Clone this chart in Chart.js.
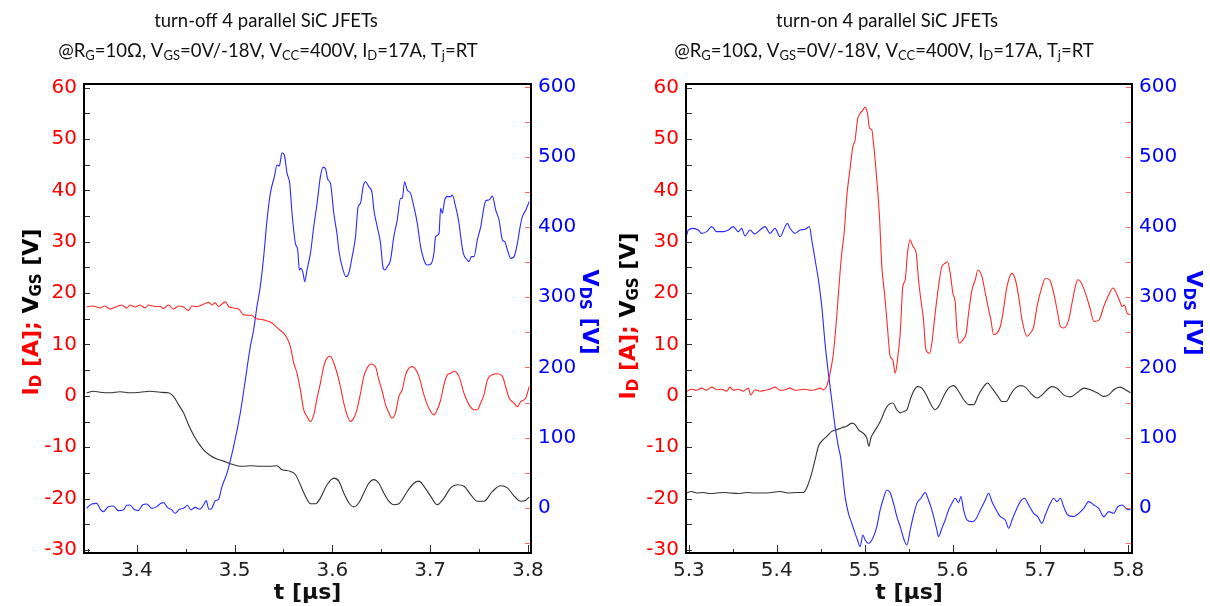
<!DOCTYPE html>
<html>
<head>
<meta charset="utf-8">
<script src="https://cdn.jsdelivr.net/npm/chart.js@4.4.1/dist/chart.umd.min.js"></script>
<style>
  html, body { margin: 0; padding: 0; background: #fff; }
  #wrap { position: relative; width: 1210px; height: 606px; overflow: hidden; }
  canvas { position: absolute; top: 0; }
</style>
</head>
<body>
<div id="wrap">
  <canvas id="off" width="605" height="606" style="left:0"></canvas>
  <canvas id="on" width="605" height="606" style="left:605px"></canvas>
</div>
<script>
// ---- turn-off (left panel), t in µs ----
const tOffVds = [3.3487,3.3539,3.3590,3.3631,3.3658,3.3709,3.3761,3.3812,3.3863,3.3897,3.3931,3.3972,3.4017,3.4061,3.4102,3.4153,3.4205,3.4246,3.4273,3.4314,3.4358,3.4392,3.4437,3.4478,3.4519,3.4553,3.4597,3.4642,3.4683,3.4710,3.4737,3.4768,3.4802,3.4836,3.4871,3.4922,3.4990,3.5058,3.5110,3.5161,3.5195,3.5229,3.5263,3.5298,3.5332,3.5366,3.5407,3.5434,3.5458,3.5485,3.5509,3.5537,3.5564,3.5588,3.5622,3.5646,3.5663,3.5680,3.5701,3.5718,3.5741,3.5776,3.5810,3.5844,3.5878,3.5905,3.5929,3.5953,3.5981,3.6015,3.6049,3.6066,3.6100,3.6140,3.6168,3.6203,3.6237,3.6264,3.6288,3.6315,3.6339,3.6373,3.6407,3.6425,3.6459,3.6493,3.6517,3.6537,3.6561,3.6595,3.6629,3.6664,3.6698,3.6715,3.6739,3.6766,3.6800,3.6834,3.6869,3.6903,3.6937,3.6971,3.7005,3.7039,3.7056,3.7091,3.7108,3.7125,3.7149,3.7176,3.7210,3.7227,3.7261,3.7296,3.7313,3.7340,3.7381,3.7398,3.7422,3.7449,3.7483,3.7518,3.7552,3.7569,3.7603,3.7637,3.7671,3.7705,3.7740,3.7763,3.7791,3.7825,3.7859,3.7893,3.7921,3.7944,3.7979,3.8013];
const vdsOff = [-0.5,5.7,6.6,-2.8,-5.2,1.9,2.8,-3.8,-2.8,3.8,4.3,-1.9,-3.8,4.7,5.7,-0.5,1.9,6.6,7.6,0.9,-2.8,-7.6,-1.9,-0.5,3.8,-2.8,0.9,-1.9,4.3,10.4,-1.9,-0.5,10.4,12.3,30.4,49.3,87.3,134.8,182.2,229.7,253.4,286.6,315.1,357.8,410.0,447.9,471.7,488.3,486.8,505.8,502.5,476.4,462.2,419.5,376.8,367.3,338.8,341.2,334.0,322.2,338.8,362.5,400.5,433.7,471.7,484.9,483.5,467.9,462.2,419.5,388.6,367.3,343.5,329.3,334.0,357.8,386.2,428.9,433.7,457.4,464.5,457.4,447.9,424.2,400.5,376.8,343.5,338.8,343.5,353.0,386.2,410.0,440.8,440.8,464.5,452.7,447.9,428.9,405.2,372.0,353.0,345.9,346.9,362.5,386.2,391.0,426.6,419.5,438.4,443.2,443.2,445.6,428.9,405.2,386.2,362.5,353.0,350.7,357.8,357.8,381.5,400.5,428.9,437.5,438.4,444.1,424.2,410.0,381.5,379.1,367.3,355.4,357.8,376.8,400.5,414.7,424.2,436.1];

const tOffId = [3.3487,3.3556,3.3624,3.3675,3.3726,3.3795,3.3846,3.3897,3.3931,3.3983,3.4034,3.4085,3.4119,3.4187,3.4239,3.4273,3.4324,3.4375,3.4427,3.4478,3.4529,3.4563,3.4614,3.4666,3.4734,3.4768,3.4802,3.4836,3.4905,3.4939,3.4990,3.5041,3.5092,3.5144,3.5178,3.5212,3.5263,3.5315,3.5383,3.5451,3.5502,3.5537,3.5571,3.5605,3.5639,3.5673,3.5707,3.5741,3.5776,3.5810,3.5844,3.5878,3.5912,3.5946,3.5980,3.6015,3.6049,3.6083,3.6117,3.6151,3.6185,3.6220,3.6247,3.6288,3.6322,3.6356,3.6390,3.6441,3.6476,3.6510,3.6544,3.6578,3.6612,3.6646,3.6681,3.6715,3.6749,3.6783,3.6817,3.6851,3.6886,3.6937,3.6971,3.7005,3.7039,3.7073,3.7108,3.7142,3.7176,3.7210,3.7244,3.7295,3.7347,3.7398,3.7449,3.7483,3.7517,3.7551,3.7586,3.7637,3.7688,3.7739,3.7773,3.7808,3.7859,3.7893,3.7927,3.7979,3.8013];
const idOff = [17.3,17.5,17.1,17.5,16.9,17.4,17.7,17.1,17.7,17.3,17.7,17.1,17.7,17.4,17.4,17.0,17.7,16.9,17.5,17.3,16.6,17.5,17.4,17.7,18.2,17.7,18.1,17.4,18.3,17.4,17.1,16.9,15.8,15.7,15.7,15.1,14.9,14.7,14.2,13.0,12.2,11.2,9.6,6.4,4.4,1.2,-2.7,-4.0,-5.0,-3.7,-0.4,2.5,5.7,7.4,7.7,6.4,4.4,1.8,-1.4,-3.7,-5.0,-4.3,-3.0,0.5,3.8,5.4,6.2,5.7,3.1,0.9,-1.7,-3.3,-4.3,-3.3,-0.1,1.2,4.1,5.4,5.7,5.2,3.8,0.2,-1.7,-3.0,-3.7,-2.7,-0.8,2.2,4.1,4.4,4.8,3.8,0.5,-1.7,-2.7,-2.7,-1.4,0.2,3.1,4.1,4.3,3.8,1.8,-0.4,-1.4,-2.1,-1.1,-0.4,1.8];

const tOffVgs = [3.3487,3.3556,3.3624,3.3726,3.3829,3.3931,3.4034,3.4136,3.4239,3.4324,3.4375,3.4427,3.4478,3.4529,3.4580,3.4631,3.4683,3.4751,3.4819,3.4888,3.4956,3.5024,3.5092,3.5161,3.5263,3.5366,3.5434,3.5485,3.5519,3.5571,3.5622,3.5673,3.5724,3.5776,3.5827,3.5878,3.5946,3.6015,3.6066,3.6117,3.6168,3.6220,3.6271,3.6322,3.6373,3.6424,3.6476,3.6527,3.6578,3.6629,3.6681,3.6715,3.6766,3.6834,3.6886,3.6937,3.7005,3.7073,3.7142,3.7210,3.7278,3.7347,3.7415,3.7483,3.7551,3.7637,3.7722,3.7791,3.7859,3.7927,3.7979,3.8013];
const vgsOff = [0.6,0.9,0.7,0.6,0.8,0.6,0.7,0.9,0.7,0.6,-0.1,-1.7,-3.3,-5.6,-7.6,-9.2,-10.5,-11.6,-12.3,-12.7,-13.2,-13.6,-13.7,-13.6,-13.7,-13.7,-13.6,-14.4,-14.5,-14.7,-15.3,-17.3,-19.5,-21.0,-21.0,-19.9,-17.3,-16.0,-16.6,-18.9,-20.8,-21.6,-20.8,-18.9,-17.0,-16.3,-17.0,-18.9,-20.5,-21.2,-21.0,-20.2,-18.6,-17.0,-16.6,-17.6,-19.5,-21.2,-19.9,-17.9,-17.3,-17.6,-19.2,-20.5,-20.5,-18.6,-17.5,-17.9,-19.5,-20.5,-20.3,-19.7];

// ---- turn-on (right panel) ----
const tOnVds = [5.2975,5.2994,5.3051,5.3108,5.3146,5.3203,5.3260,5.3317,5.3393,5.3450,5.3506,5.3563,5.3601,5.3639,5.3696,5.3753,5.3810,5.3867,5.3924,5.3981,5.4038,5.4095,5.4121,5.4152,5.4209,5.4266,5.4323,5.4372,5.4399,5.4437,5.4475,5.4513,5.4550,5.4588,5.4626,5.4664,5.4702,5.4729,5.4752,5.4778,5.4816,5.4854,5.4892,5.4919,5.4949,5.4980,5.5006,5.5044,5.5093,5.5139,5.5177,5.5215,5.5253,5.5291,5.5329,5.5367,5.5405,5.5450,5.5481,5.5519,5.5557,5.5595,5.5640,5.5689,5.5727,5.5765,5.5822,5.5841,5.5879,5.5917,5.5955,5.5993,5.6031,5.6069,5.6096,5.6126,5.6164,5.6221,5.6259,5.6316,5.6373,5.6411,5.6449,5.6487,5.6544,5.6601,5.6639,5.6677,5.6733,5.6771,5.6817,5.6866,5.6923,5.6969,5.7018,5.7056,5.7113,5.7151,5.7189,5.7227,5.7265,5.7311,5.7379,5.7436,5.7493,5.7550,5.7607,5.7664,5.7721,5.7778,5.7834,5.7880,5.7929,5.7986,5.8024];
const vdsOn = [388.6,395.7,398.1,395.7,391.0,393.4,400.5,393.4,393.4,395.7,400.5,393.4,398.1,387.2,395.7,390.0,395.7,400.5,391.0,398.1,386.2,400.5,405.2,398.1,391.0,395.7,396.7,400.5,381.5,353.0,324.6,286.6,234.4,191.7,153.7,115.8,87.3,70.7,44.6,16.1,-7.6,-21.8,-36.1,-45.6,-55.0,-38.4,-45.6,-50.3,-43.2,-26.6,-2.8,13.8,25.6,21.8,6.6,-12.3,-26.6,-45.6,-52.7,-31.3,-10.0,6.6,13.8,21.8,11.4,-2.8,-31.3,-40.8,-28.9,-17.1,-2.8,6.6,13.8,7.6,16.1,-2.8,-17.1,-19.5,-17.1,-2.8,11.4,20.9,9.0,-0.5,-12.3,-17.1,-28.9,-17.1,-0.5,9.0,13.8,4.3,-7.6,-12.3,-21.8,-10.0,6.6,13.8,9.0,13.8,1.9,-10.0,-12.3,-7.6,-0.5,9.0,4.3,-0.5,-12.3,-5.2,-7.6,1.9,4.3,-1.9,-2.8];

const tOnId = [5.2975,5.3032,5.3089,5.3146,5.3203,5.3260,5.3317,5.3374,5.3431,5.3468,5.3506,5.3563,5.3620,5.3677,5.3704,5.3753,5.3810,5.3867,5.3924,5.3981,5.4038,5.4095,5.4152,5.4209,5.4266,5.4323,5.4380,5.4437,5.4494,5.4532,5.4570,5.4607,5.4645,5.4683,5.4714,5.4740,5.4767,5.4797,5.4835,5.4866,5.4892,5.4919,5.4949,5.4980,5.5006,5.5033,5.5056,5.5082,5.5101,5.5139,5.5169,5.5196,5.5226,5.5253,5.5291,5.5321,5.5348,5.5374,5.5405,5.5435,5.5462,5.5488,5.5519,5.5549,5.5587,5.5613,5.5640,5.5670,5.5697,5.5739,5.5765,5.5803,5.5841,5.5879,5.5917,5.5943,5.5974,5.6004,5.6031,5.6050,5.6080,5.6118,5.6156,5.6183,5.6221,5.6259,5.6289,5.6335,5.6373,5.6411,5.6437,5.6467,5.6506,5.6544,5.6574,5.6612,5.6639,5.6677,5.6715,5.6753,5.6791,5.6848,5.6886,5.6924,5.6962,5.7019,5.7057,5.7106,5.7151,5.7189,5.7227,5.7265,5.7322,5.7360,5.7398,5.7425,5.7455,5.7512,5.7569,5.7607,5.7664,5.7721,5.7778,5.7827,5.7872,5.7910,5.7929,5.7956,5.7986,5.8024];
const idOn = [0.9,1.3,1.1,1.5,1.1,1.7,1.2,1.3,0.9,1.7,1.1,1.3,0.9,1.5,0.2,1.2,0.9,1.1,1.3,1.7,1.1,1.2,1.5,1.1,1.2,1.3,1.1,1.2,1.5,1.2,2.0,4.4,8.3,15.5,22.6,27.8,31.7,38.8,44.3,48.5,49.8,53.7,55.0,55.6,56.2,55.0,52.1,51.8,49.2,42.0,34.9,25.2,20.0,14.8,7.7,7.0,4.4,7.0,12.2,21.3,22.6,27.8,30.4,29.1,27.8,22.6,18.7,14.8,9.0,8.3,10.3,16.1,21.3,25.2,25.8,26.1,23.9,20.0,18.1,12.9,10.3,10.9,12.2,16.1,20.6,22.6,24.5,23.2,20.0,16.8,14.8,11.9,12.2,13.5,16.1,20.6,22.6,23.9,22.6,19.3,14.8,11.6,12.2,13.5,17.4,21.3,22.9,22.6,20.0,16.8,13.5,13.2,14.8,18.1,21.3,22.6,22.3,20.0,16.8,14.5,14.7,17.4,19.7,21.0,19.7,18.1,17.4,17.7,16.1,15.8];

const tOnVgs = [5.2975,5.3032,5.3089,5.3165,5.3241,5.3317,5.3393,5.3468,5.3563,5.3658,5.3753,5.3848,5.3943,5.4038,5.4133,5.4228,5.4304,5.4342,5.4399,5.4437,5.4475,5.4513,5.4570,5.4626,5.4683,5.4740,5.4797,5.4854,5.4892,5.4930,5.4980,5.5025,5.5048,5.5071,5.5101,5.5158,5.5196,5.5234,5.5272,5.5321,5.5367,5.5405,5.5450,5.5481,5.5519,5.5557,5.5602,5.5651,5.5701,5.5746,5.5803,5.5841,5.5898,5.5955,5.6012,5.6069,5.6126,5.6183,5.6240,5.6297,5.6354,5.6399,5.6449,5.6506,5.6563,5.6612,5.6658,5.6715,5.6772,5.6829,5.6886,5.6962,5.7019,5.7076,5.7132,5.7189,5.7265,5.7341,5.7417,5.7493,5.7569,5.7645,5.7721,5.7778,5.7834,5.7910,5.7967,5.8024];
const vgsOn = [-18.9,-18.6,-18.9,-18.8,-19.0,-18.9,-18.8,-18.9,-19.0,-18.8,-18.9,-18.9,-18.8,-18.6,-18.9,-18.8,-18.8,-17.9,-15.0,-12.4,-9.8,-8.8,-7.9,-6.9,-6.6,-6.2,-5.9,-5.3,-5.6,-6.6,-7.2,-8.2,-9.8,-8.2,-7.2,-5.6,-4.3,-2.7,-1.7,-1.4,-2.7,-3.3,-3.0,-2.7,-0.7,0.9,1.8,1.5,0.2,-1.4,-2.7,-2.1,-0.1,1.5,2.0,0.9,-0.7,-1.7,-1.7,0.2,1.8,2.5,1.5,0.2,-1.1,-1.1,0.2,1.5,2.0,1.7,0.6,-0.4,0.2,1.2,1.8,1.5,0.2,-0.2,0.6,1.5,1.2,0.6,-0.1,0.2,1.2,1.7,1.2,0.6];

// ---- tick labels ----
const xTicksOff = [3.4, 3.5, 3.6, 3.7, 3.8];
const xTicksOn = [5.3, 5.4, 5.5, 5.6, 5.7, 5.8];
const leftTicks = [-30, -20, -10, 0, 10, 20, 30, 40, 50, 60];
const rightTicks = [0, 100, 200, 300, 400, 500, 600];

const titleLine2 = '@R_{G}=10Ω, V_{GS}=0V/-18V, V_{CC}=400V, I_{D}=17A, T_{j}=RT';

function steps(a, b, s) {
    const out = [];
    for (let v = a; v <= b + s / 1000; v += s) out.push(+v.toFixed(4));
    return out;
}

function pairs(ts, vs) {
    const n = Math.min(ts.length, vs.length);
    const out = [];
    for (let i = 0; i < n; i++) out.push({ x: ts[i], y: vs[i] });
    return out;
}

// split "_{...}" into subscript runs
function runs(parts) {
    const out = [];
    parts.forEach(p => {
        const re = /_\{([^}]*)\}/g;
        let last = 0, m;
        while ((m = re.exec(p.t))) {
            if (m.index > last) out.push({ s: p.t.slice(last, m.index), sub: false, c: p.c });
            out.push({ s: m[1], sub: true, c: p.c });
            last = re.lastIndex;
        }
        if (last < p.t.length) out.push({ s: p.t.slice(last), sub: false, c: p.c });
    });
    return out;
}

function drawRich(ctx, it) {
    const rs = runs(it.parts);
    const big = `${it.weight} ${it.size}px ${it.family}`;
    const small = `${it.weight} ${Math.round(it.size * 0.68)}px ${it.family}`;
    let w = 0;
    rs.forEach(r => { ctx.font = r.sub ? small : big; r.w = ctx.measureText(r.s).width; w += r.w; });
    ctx.save();
    ctx.translate(it.x, it.y);
    ctx.rotate(it.rot || 0);
    ctx.textAlign = 'left';
    ctx.textBaseline = 'alphabetic';
    let x = -w / 2;
    const base = it.size * 0.36;
    rs.forEach(r => {
        ctx.font = r.sub ? small : big;
        ctx.fillStyle = r.c;
        ctx.fillText(r.s, x, base + (r.sub ? it.size * 0.16 : 0));
        x += r.w;
    });
    ctx.restore();
}

const richText = {
    id: 'richText',
    afterDraw(chart, args, opts) {
        (opts.items || []).forEach(it => drawRich(chart.ctx, it));
    }
};

// box round the plot plus inward tick marks
const frameTicks = {
    id: 'frameTicks',
    afterDatasetsDraw(chart, args, o) {
        const { ctx, chartArea: a, scales } = chart;
        const px = v => Math.round(v) + 0.5;
        ctx.save();
        ctx.lineWidth = 1;
        ctx.strokeStyle = '#333';
        ctx.beginPath();
        o.yMarks.forEach(v => {
            const p = px(scales.y.getPixelForValue(v));
            ctx.moveTo(a.left, p); ctx.lineTo(a.left + 6, p);
        });
        o.xMinor.forEach(v => {
            const p = px(scales.x.getPixelForValue(v));
            const len = o.xMajor.some(m => Math.abs(m - v) < 1e-6) ? 8 : 4;
            ctx.moveTo(p, a.bottom); ctx.lineTo(p, a.bottom - len);
        });
        ctx.stroke();
        ctx.strokeStyle = 'rgba(255,40,40,0.7)';
        ctx.beginPath();
        o.y2Marks.forEach(v => {
            const p = px(scales.y2.getPixelForValue(v));
            ctx.moveTo(a.right - 6, p); ctx.lineTo(a.right, p);
        });
        ctx.stroke();
        ctx.lineWidth = 2;
        ctx.strokeStyle = '#000';
        ctx.strokeRect(a.left, a.top, a.right - a.left, a.bottom - a.top);
        ctx.restore();
    }
};

function line(data, color, axis) {
    return {
        data, borderColor: color, borderWidth: 1.1, pointRadius: 0,
        cubicInterpolationMode: 'monotone', fill: false, yAxisID: axis,
    };
}

function buildChart(id, p) {
    const tickFont = { family: 'DejaVu Sans', size: 20 };
    return new Chart(document.getElementById(id), {
        type: 'line',
        data: {
            datasets: [
                line(pairs(p.tId, p.id), '#ff2a2a', 'y'),
                line(pairs(p.tVds, p.vds), '#2a2aff', 'y2'),
                line(pairs(p.tVgs, p.vgs), '#333333', 'y'),
            ],
        },
        options: {
            responsive: false,
            animation: false,
            events: [],
            layout: { padding: { top: 84, left: 0, right: 0, bottom: 0 } },
            plugins: {
                legend: { display: false },
                tooltip: { enabled: false },
                frameTicks: {
                    xMajor: p.xTicks,
                    xMinor: steps(p.xTicks[0] - (p.xStart ? 0 : 0.05), p.xTicks[p.xTicks.length - 1], 0.05),
                    yMarks: steps(-30, 60, 5),
                    y2Marks: steps(-50, 600, 50),
                },
                richText: { items: p.texts },
            },
            scales: {
                x: {
                    type: 'linear',
                    min: p.xMin,
                    max: p.xMax,
                    afterBuildTicks: s => { s.ticks = p.xTicks.map(v => ({ value: v })); },
                    afterFit: s => { s.height = 53; },
                    grid: { display: false, drawTicks: false },
                    border: { display: false },
                    ticks: { autoSkip: false, maxRotation: 0, padding: 6, color: '#222', font: tickFont, callback: v => v.toFixed(1) },
                    title: { display: true, text: 't [µs]', color: '#111', padding: 0, font: { family: 'DejaVu Sans', size: 22, weight: 'bold' } },
                },
                y: {
                    position: 'left',
                    min: -30.58,
                    max: 60.7,
                    afterBuildTicks: s => { s.ticks = leftTicks.map(v => ({ value: v })); },
                    afterFit: s => { s.width = p.leftW; },
                    grid: { display: false, drawTicks: false },
                    border: { display: false },
                    ticks: { autoSkip: false, padding: 7, color: '#ff0000', font: tickFont },
                },
                y2: {
                    position: 'right',
                    min: -64.1,
                    max: 603.6,
                    afterBuildTicks: s => { s.ticks = rightTicks.map(v => ({ value: v })); },
                    afterFit: s => { s.width = p.rightW; },
                    grid: { display: false, drawTicks: false },
                    border: { display: false },
                    ticks: { autoSkip: false, padding: 7, color: '#0000ff', font: tickFont },
                },
            },
        },
        plugins: [frameTicks, richText],
    });
}

function panelTexts(head, cx1, cx2, yl, yr) {
    const tFont = { size: 18.5, family: 'Lato, "Open Sans", sans-serif', weight: 'normal' };
    const aFont = { size: 22, family: '"DejaVu Sans"', weight: 'bold' };
    return [
        Object.assign({ x: cx1, y: 20, parts: [{ t: head, c: '#111' }] }, tFont),
        Object.assign({ x: cx2, y: 50, parts: [{ t: titleLine2, c: '#111' }] }, tFont),
        Object.assign({ x: yl[0], y: yl[1], rot: -Math.PI / 2, parts: [{ t: 'I_{D} [A]; ', c: '#ff0000' }, { t: 'V_{GS} [V]', c: '#000' }] }, aFont),
        Object.assign({ x: yr[0], y: yr[1], rot: Math.PI / 2, parts: [{ t: 'V_{DS} [V]', c: '#0000ff' }] }, aFont),
    ];
}

buildChart('off', {
    tVds: tOffVds, vds: vdsOff, tId: tOffId, id: idOff, tVgs: tOffVgs, vgs: vgsOff,
    xMin: 3.346, xMax: 3.8032, xTicks: xTicksOff,
    leftW: 84, rightW: 74,
    texts: panelTexts('turn-off 4 parallel SiC JFETs', 266, 268, [30, 312], [591, 312]),
});

buildChart('on', {
    tVds: tOnVds, vds: vdsOn, tId: tOnId, id: idOn, tVgs: tOnVgs, vgs: vgsOn,
    xMin: 5.2968, xMax: 5.8042, xTicks: xTicksOn, xStart: true,
    leftW: 81, rightW: 78,
    texts: panelTexts('turn-on 4 parallel SiC JFETs', 282, 279, [22, 316], [590, 313]),
});
</script>
</body>
</html>
